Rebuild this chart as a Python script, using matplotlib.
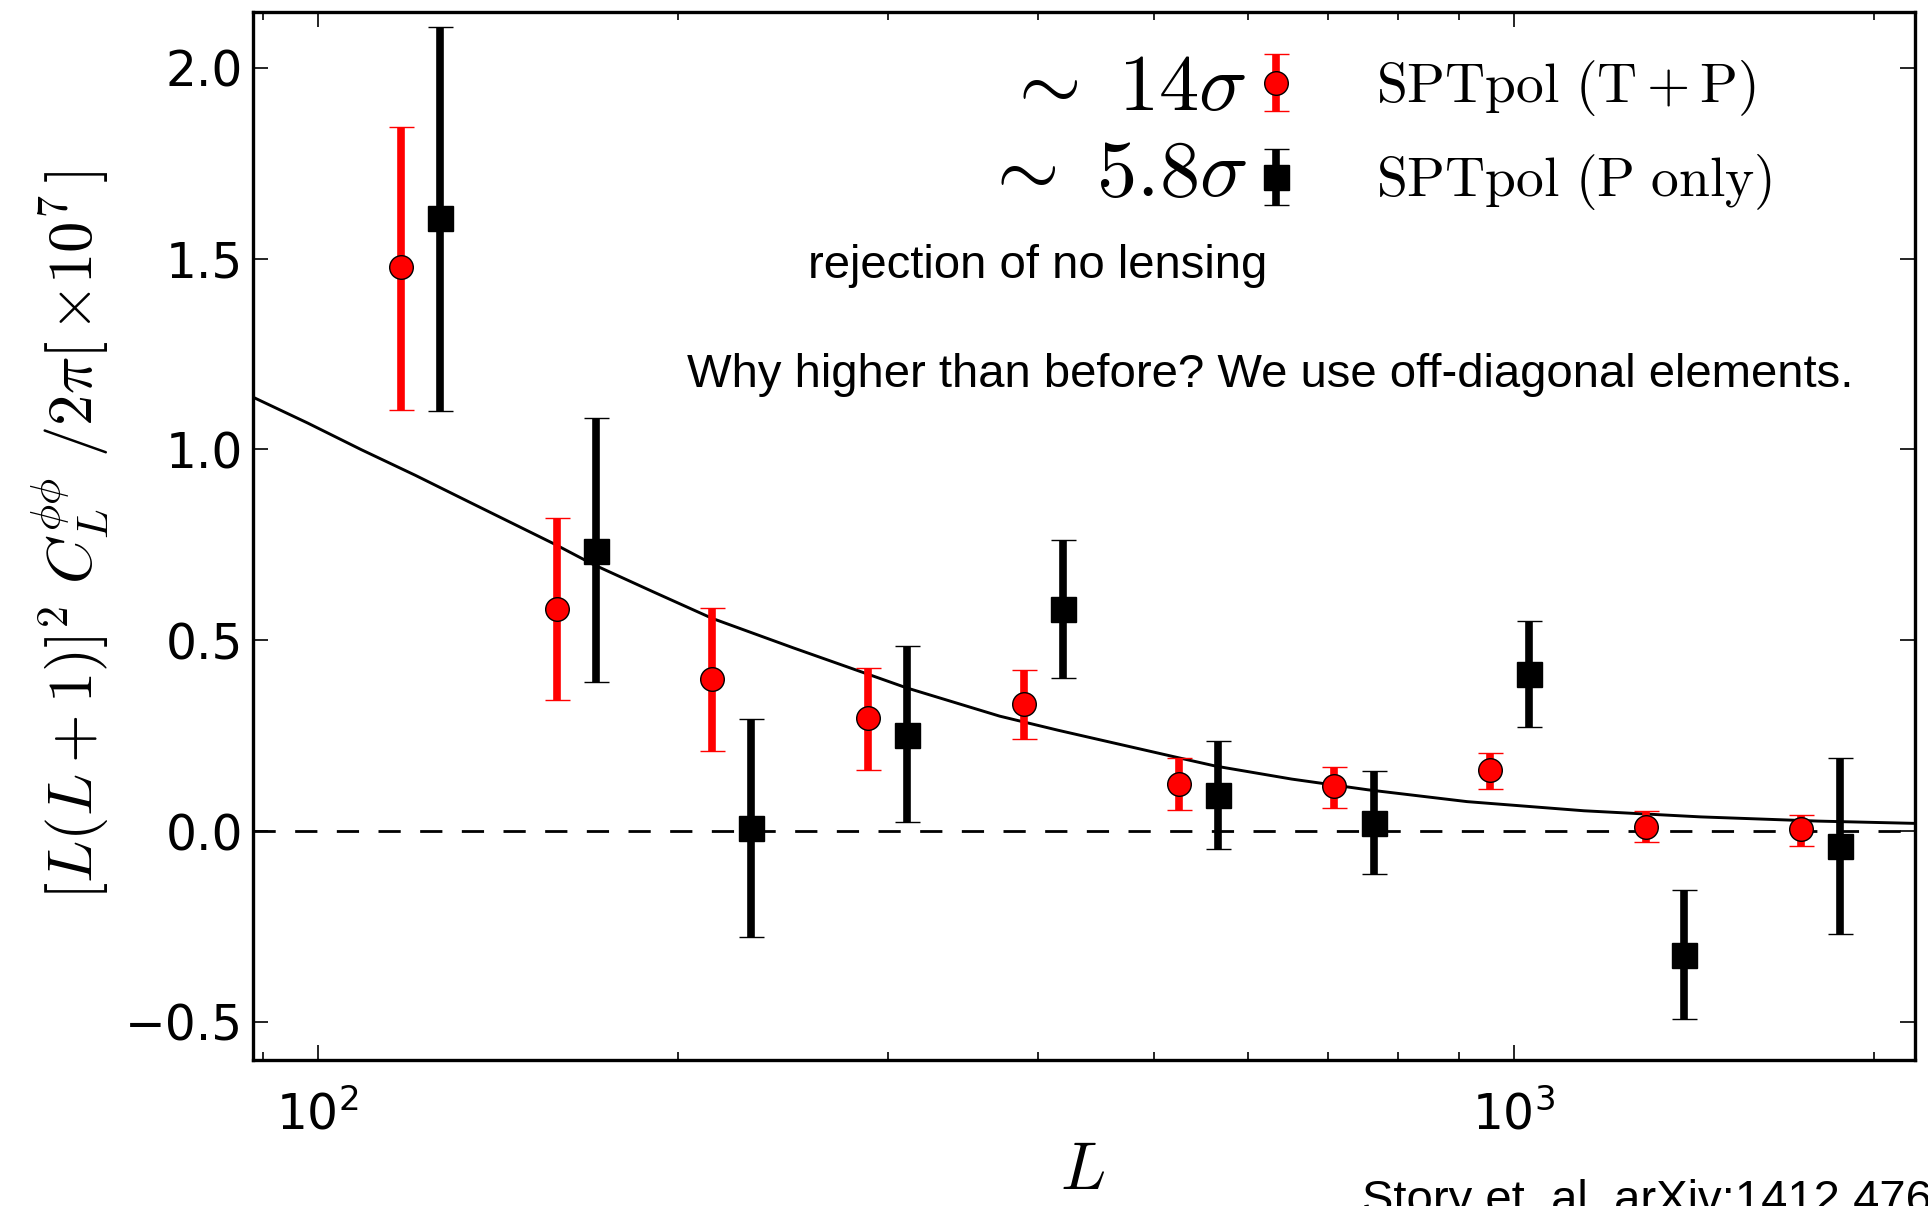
import matplotlib
matplotlib.use("Agg")
import matplotlib.pyplot as plt
from matplotlib.font_manager import FontProperties
from matplotlib.legend_handler import HandlerErrorbar
from matplotlib.ticker import LogLocator, NullFormatter, FixedLocator

# SPTpol lensing bandpowers: [L(L+1)]^2 C_L^{phiphi} / 2pi  x 1e7
L_tp = [117.3, 158.4, 213.7, 288.3, 389.2, 525.0, 708.0, 955.8, 1290.0, 1740.0]
C_tp = [1.477, 0.581, 0.397, 0.295, 0.332, 0.122, 0.118, 0.159, 0.0105, 0.004]
C_tp_hi = [1.844, 0.820, 0.585, 0.426, 0.423, 0.191, 0.168, 0.205, 0.052, 0.041]
C_tp_lo = [1.104, 0.344, 0.210, 0.161, 0.240, 0.054, 0.061, 0.111, -0.029, -0.040]

L_p = [126.6, 170.8, 230.4, 310.9, 420.0, 565.4, 763.8, 1030.0, 1389.0, 1874.0]
C_p = [1.605, 0.733, 0.008, 0.251, 0.583, 0.094, 0.022, 0.411, -0.324, -0.040]
C_p_hi = [2.107, 1.083, 0.294, 0.485, 0.762, 0.235, 0.157, 0.550, -0.155, 0.192]
C_p_lo = [1.100, 0.391, -0.278, 0.024, 0.401, -0.048, -0.112, 0.273, -0.492, -0.271]

# fiducial LCDM lensing spectrum
L_th = [88.4, 98.1, 108.8, 120.7, 133.9, 157.5, 170.1, 190.7, 213.8, 249.8,
        289.0, 310.8, 371.7, 416.0, 465.5, 521.0, 563.5, 652.4, 755.1, 914.1,
        1145.0, 1433.0, 1795.0, 2165.0]
C_th = [1.136, 1.069, 0.999, 0.932, 0.862, 0.753, 0.698, 0.627, 0.557, 0.480,
        0.410, 0.375, 0.301, 0.264, 0.229, 0.194, 0.170, 0.136, 0.108, 0.077,
        0.053, 0.037, 0.026, 0.020]

legend_labels = [r"$\mathrm{SPTpol\ (T+P)}$", r"$\mathrm{SPTpol\ (P\ only)}$"]
significance = [r"$\sim\ 14\sigma$", r"$\sim\ 5.8\sigma$"]

W, H = 1928, 1206
fig = plt.figure(figsize=(W / 100, H / 100), dpi=100)
ax = fig.add_axes([253 / W, 1 - 1060 / H, (1915 - 253) / W, (1060 - 12) / H])

ax.set_xscale("log")
ax.set_xlim(88.3, 2165)
ax.set_ylim(-0.6, 2.146)

ax.plot(L_th, C_th, color="black", lw=2.1, zorder=2)
ax.axhline(0.0, color="black", lw=2.0, ls=(0, (8, 7)), zorder=1)

err_tp = [[c - lo for c, lo in zip(C_tp, C_tp_lo)], [hi - c for c, hi in zip(C_tp, C_tp_hi)]]
err_p = [[c - lo for c, lo in zip(C_p, C_p_lo)], [hi - c for c, hi in zip(C_p, C_p_hi)]]

eb_tp = ax.errorbar(L_tp, C_tp, yerr=err_tp, fmt="o", ms=17, mfc="red", mec="black",
                    mew=1.0, ecolor="red", elinewidth=5.5, capsize=9, capthick=5, zorder=4)
eb_p = ax.errorbar(L_p, C_p, yerr=err_p, fmt="s", ms=18, mfc="black", mec="black",
                   mew=1.0, ecolor="black", elinewidth=5.5, capsize=9, capthick=5, zorder=4)

for s in ax.spines.values():
    s.set_linewidth(2.4)

ax.xaxis.set_major_locator(FixedLocator([100, 1000]))
ax.xaxis.set_minor_locator(LogLocator(base=10, subs=range(2, 10)))
ax.xaxis.set_minor_formatter(NullFormatter())
ax.set_yticks([-0.5, 0.0, 0.5, 1.0, 1.5, 2.0])
ax.tick_params(which="both", direction="in", top=True, right=True, width=1.2)
ax.tick_params(which="major", length=11, labelsize=35)
ax.tick_params(which="minor", length=6)
ax.tick_params(axis="y", pad=7)
ax.tick_params(axis="x", pad=22)

ax.set_ylabel(r"$[L(L+1)]^2\ C_L^{\phi\phi}\ /2\pi[\,{\times}10^7\,]$", fontsize=45,
              math_fontfamily="cm", va="center")
ax.yaxis.set_label_coords(-(253 - 70) / 1662, 0.5)
ax.set_xlabel(r"$L$", fontsize=48, math_fontfamily="cm", va="center")
ax.xaxis.set_label_coords((1083 - 253) / 1662, -(1170 - 1060) / 1048)

leg = ax.legend([eb_tp, eb_p], legend_labels, loc="upper left",
                bbox_to_anchor=((1262 - 253) / 1662, 1 - (58 - 12) / 1048),
                frameon=False, handlelength=0.5, handletextpad=1.55, labelspacing=0.62,
                borderpad=0, borderaxespad=0,
                prop=FontProperties(size=40, math_fontfamily="cm"),
                handler_map={type(eb_tp): HandlerErrorbar(xerr_size=0.5, yerr_size=0.51)})

for i, s in enumerate(significance):
    fig.text(1247 / W, 1 - (88 + 86 * i) / H, s, fontsize=58, math_fontfamily="cm",
             ha="right", va="center")

fig.text(808 / W, 1 - 266 / H, "rejection of no lensing", fontsize=34,
         family="Liberation Sans", ha="left", va="center")
fig.text(687 / W, 1 - 375 / H, "Why higher than before? We use off-diagonal elements.",
         fontsize=34, family="Liberation Sans", ha="left", va="center")
fig.text(1362 / W, 1 - 1179 / H, "Story et. al. arXiv:1412.4760", fontsize=34,
         family="Liberation Sans", ha="left", va="top")

fig.savefig("out.png", dpi=100, facecolor="white")
